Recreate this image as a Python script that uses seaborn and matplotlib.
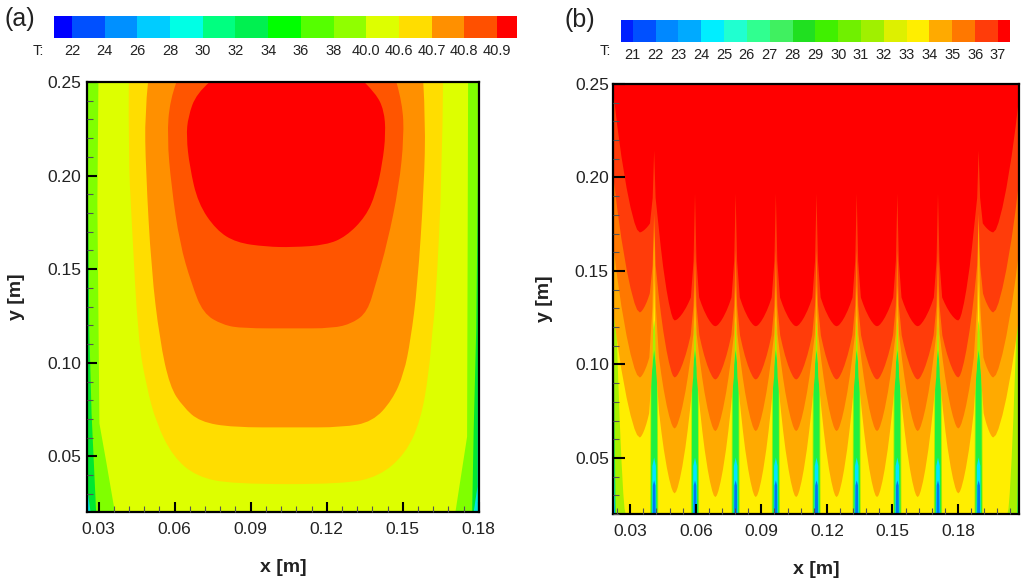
import numpy as np
import matplotlib
matplotlib.use("Agg")
import matplotlib.pyplot as plt
from matplotlib.colors import ListedColormap
from matplotlib.patches import PathPatch
from matplotlib.path import Path
from matplotlib.ticker import MultipleLocator, FormatStrFormatter
import seaborn as sns

# legend strips
labels_a = ["22", "24", "26", "28", "30", "32", "34", "36", "38", "40.0", "40.6", "40.7", "40.8", "40.9"]
colors_a = ["#0000FF", "#0050FF", "#0090FF", "#00CCFF", "#00FFE5", "#00FF80", "#00F050", "#00FF00",
            "#55FF00", "#90FF00", "#DDFF00", "#FFDD00", "#FF9000", "#FF5000", "#FF0000"]
labels_b = ["21", "22", "23", "24", "25", "26", "27", "28", "29", "30", "31", "32", "33", "34", "35", "36", "37"]
colors_b = ["#0020FF", "#0050FF", "#0088FF", "#00AAFF", "#00EEFF", "#20FFD0", "#30FF90", "#40F060", "#20E020",
            "#40F000", "#70F000", "#A0F000", "#DDF000", "#FFEE00", "#FFAA00", "#FF7800", "#FF3C0A", "#FF0000"]

# panel (a): outline of each temperature band
green_x = [0.0254, 0.0254, 0.0268, 0.1780, 0.1795, 0.1801]
green_y = [0.25, 0.0338, 0.0203, 0.0203, 0.0338, 0.25]
lime_x = [0.0254, 0.0263, 0.0272, 0.0290, 0.1774, 0.1780, 0.1790, 0.1801]
lime_y = [0.25, 0.1175, 0.0730, 0.0203, 0.0203, 0.0641, 0.1175, 0.25]
yellowgreen_x = [0.0299, 0.0295, 0.0303, 0.0331, 0.0364, 0.1708, 0.1754, 0.1758]
yellowgreen_y = [0.25, 0.1852, 0.0676, 0.0463, 0.0203, 0.0203, 0.0605, 0.25]
yellow_x = [0.0419, 0.0417, 0.0430, 0.0456, 0.0489, 0.0528, 0.0594, 0.0686, 0.0830, 0.1263, 0.1407,
            0.1512, 0.1571, 0.1603, 0.1617, 0.1630, 0.1656, 0.1659]
yellow_y = [0.25, 0.2119, 0.1763, 0.1122, 0.0872, 0.0676, 0.0498, 0.0392, 0.0352, 0.0352, 0.0392,
            0.0516, 0.0694, 0.0944, 0.1175, 0.1318, 0.2030, 0.25]
orange_x = [0.0495, 0.0482, 0.0486, 0.0508, 0.0541, 0.0581, 0.0633, 0.0699, 0.0830, 0.1066, 0.1263,
            0.1381, 0.1459, 0.1505, 0.1531, 0.1558, 0.1584, 0.1590, 0.1581]
orange_y = [0.25, 0.2333, 0.2030, 0.1496, 0.1122, 0.0872, 0.0765, 0.0685, 0.0655, 0.0655, 0.0655,
            0.0685, 0.0801, 0.0944, 0.1122, 0.1407, 0.1941, 0.2297, 0.25]
redorange_x = [0.0607, 0.0581, 0.0570, 0.0587, 0.0620, 0.0666, 0.0712, 0.0790, 0.0869, 0.1066, 0.1223,
               0.1302, 0.1361, 0.1394, 0.1439, 0.1485, 0.1505, 0.1499, 0.1475]
redorange_y = [0.25, 0.2404, 0.2208, 0.1941, 0.1638, 0.1424, 0.1264, 0.1202, 0.1184, 0.1184, 0.1184,
               0.1211, 0.1273, 0.1424, 0.1638, 0.1941, 0.2208, 0.2386, 0.25]
red_x = [0.0738, 0.0686, 0.0653, 0.0646, 0.0659, 0.0692, 0.0764, 0.0843, 0.0961, 0.1066, 0.1197,
         0.1276, 0.1354, 0.1394, 0.1420, 0.1433, 0.1426, 0.1394, 0.1348]
red_y = [0.25, 0.2439, 0.2315, 0.2208, 0.2048, 0.1852, 0.1709, 0.1642, 0.1620, 0.1617, 0.1629,
         0.1674, 0.1781, 0.1905, 0.2066, 0.2226, 0.2350, 0.2439, 0.25]

# panel (b): cold slits along x, and for each band the lobe bottoms, heights where a lobe
# meets a slit, slit tip heights and heights at the two side walls
slit_x = [0.0407, 0.0594, 0.0780, 0.0964, 0.1150, 0.1334, 0.1520, 0.1706, 0.1892]
floor_b = [0.02] * 10
flat_b = [0.02] * 9
lobe_frac = [0.0, 0.1, 0.2, 0.35, 0.5, 0.7, 0.85, 1.0]
lobe_rise = [0.0, 0.02, 0.07, 0.18, 0.32, 0.55, 0.76, 1.0]

cyan_top = [0.0382] * 9
green_top = [0.0505] * 9
lime_top = [0.1078] * 9
yellow_top = [0.1238] * 9
amber_bottom = [0.0612, 0.0313, 0.0293, 0.0293, 0.0293, 0.0293, 0.0293, 0.0293, 0.0313, 0.0612]
amber_side = [0.0741, 0.0757, 0.0757, 0.0757, 0.0757, 0.0757, 0.0757, 0.0757, 0.0741]
amber_top = [0.1452, 0.1265, 0.1265, 0.1265, 0.1265, 0.1265, 0.1265, 0.1265, 0.1452]
tone_bottom = [0.0933, 0.0660, 0.0646, 0.0646, 0.0646, 0.0646, 0.0646, 0.0646, 0.0660, 0.0933]
tone_side = [0.1040, 0.1024, 0.1024, 0.1024, 0.1024, 0.1024, 0.1024, 0.1024, 0.1040]
tone_top = [0.1810, 0.1425, 0.1425, 0.1425, 0.1425, 0.1425, 0.1425, 0.1425, 0.1810]
hot_bottom = [0.1281, 0.0933, 0.0922, 0.0922, 0.0922, 0.0922, 0.0922, 0.0922, 0.0933, 0.1281]
hot_side = [0.1382, 0.1158, 0.1158, 0.1158, 0.1158, 0.1158, 0.1158, 0.1158, 0.1382]
hot_top = [0.1810, 0.1612, 0.1612, 0.1612, 0.1612, 0.1612, 0.1612, 0.1612, 0.1810]
peak_bottom = [0.1709, 0.1238, 0.1207, 0.1207, 0.1207, 0.1207, 0.1207, 0.1207, 0.1238, 0.1709]
peak_side = [0.1757, 0.1361, 0.1361, 0.1361, 0.1361, 0.1361, 0.1361, 0.1361, 0.1757]
peak_top = [0.2147, 0.1917, 0.1917, 0.1917, 0.1917, 0.1917, 0.1917, 0.1917, 0.2147]
wall_heights = [0.05, 0.07, 0.1345, 0.181, 0.1275, 0.1628, 0.20, 0.245]

sns.set_theme(style="ticks")
plt.rcParams["font.family"] = ["Liberation Sans", "DejaVu Sans"]

W, H = 1024, 578
fig = plt.figure(figsize=(W / 100, H / 100), dpi=100, facecolor="white")


def px_axes(left, top, right, bottom):
    return fig.add_axes([left / W, 1 - bottom / H, (right - left) / W, (bottom - top) / H])


def legend_strip(box, colors, labels, xlim, t_x):
    ax = px_axes(*box)
    strip = np.arange(len(colors)).reshape(1, -1)
    sns.heatmap(strip, ax=ax, cmap=ListedColormap(colors), cbar=False, linewidths=0,
                xticklabels=False, yticklabels=False)
    ax.set_xlim(*xlim)
    ax.set_xticks(np.arange(1, len(labels) + 1))
    ax.set_xticklabels(labels, fontsize=10.5, color="#222222")
    ax.tick_params(axis="x", length=0, pad=4.5)
    fig.text(t_x / W, 1 - 51 / H, "T:", fontsize=10.5, color="#222222", ha="left", va="center")


def style_axes(ax, x_lim, y_lim, label_pad, y_tick_len):
    ax.set_xlim(*x_lim)
    ax.set_ylim(*y_lim)
    ax.set_axisbelow(False)
    ax.xaxis.set_major_locator(MultipleLocator(0.03))
    ax.xaxis.set_minor_locator(MultipleLocator(0.006))
    ax.yaxis.set_major_locator(MultipleLocator(0.05))
    ax.yaxis.set_minor_locator(MultipleLocator(0.01))
    ax.xaxis.set_major_formatter(FormatStrFormatter("%.2f"))
    ax.yaxis.set_major_formatter(FormatStrFormatter("%.2f"))
    ax.tick_params(which="major", direction="in", length=7.5, width=1.5, color="black",
                   labelsize=12.5, labelcolor="#222222")
    ax.tick_params(axis="x", which="major", pad=7)
    ax.tick_params(axis="y", which="major", pad=label_pad, length=y_tick_len)
    ax.tick_params(which="minor", direction="in", length=4, width=0.8, color="#555555")
    for side in ax.spines.values():
        side.set_linewidth(1.6)
        side.set_color("black")
    ax.set_xlabel("x [m]", fontsize=14, fontweight="bold", color="#222222", labelpad=16)
    ax.set_ylabel("y [m]", fontsize=14, fontweight="bold", color="#222222", labelpad=16)


def smooth_band(ax, bx, by, color):
    # outline points act as quadratic control points, so the corners come out round
    pts = list(zip(bx, by))
    verts, codes = [pts[0]], [Path.MOVETO]
    for i in range(1, len(pts) - 1):
        ctrl = pts[i]
        if i == len(pts) - 2:
            end = pts[-1]
        else:
            end = ((pts[i][0] + pts[i + 1][0]) / 2, (pts[i][1] + pts[i + 1][1]) / 2)
        verts += [ctrl, end]
        codes += [Path.CURVE3, Path.CURVE3]
    verts.append(pts[0])
    codes.append(Path.LINETO)
    ax.add_patch(PathPatch(Path(verts, codes), facecolor=color, edgecolor="none", lw=0))


def band_curve(bottom, side, top, half_w, wall, wall_span, neck, x_lo, x_hi):
    xs, ys = [], []
    last = len(bottom) - 1
    for i in range(len(bottom)):
        left_edge = x_lo if i == 0 else slit_x[i - 1] + half_w
        right_edge = x_hi if i == last else slit_x[i] - half_w
        if i == 0:
            centre = x_lo + wall_span
        elif i == last:
            centre = x_hi - wall_span
        else:
            centre = (left_edge + right_edge) / 2
        left_h = wall if i == 0 else side[i - 1]
        right_h = wall if i == last else side[i]
        for f, r in zip(lobe_frac[::-1], lobe_rise[::-1]):
            xs.append(centre - (centre - left_edge) * f)
            ys.append(bottom[i] + (left_h - bottom[i]) * r)
        for f, r in zip(lobe_frac[1:], lobe_rise[1:]):
            xs.append(centre + (right_edge - centre) * f)
            ys.append(bottom[i] + (right_h - bottom[i]) * r)
        if i < last:
            neck_y = side[i] + (top[i] - side[i]) * neck
            xs += [slit_x[i] - neck * half_w, slit_x[i], slit_x[i] + neck * half_w]
            ys += [neck_y, top[i], neck_y]
    return xs, ys


# legends
legend_strip((53.7, 16, 517, 38), colors_a, labels_a, (0.44, 14.61), 33)
legend_strip((621.3, 20, 1010.3, 41.7), colors_b, labels_b, (0.5, 17.54), 600)

# panel (a): the three outer bands reach the floor with sharp corners
ax_a = px_axes(87, 82, 479, 512)
ax_a.set_facecolor("#00E5E0")
ax_a.fill(green_x, green_y, color="#00E830", lw=0)
ax_a.fill(lime_x, lime_y, color="#80FF00", lw=0)
ax_a.fill(yellowgreen_x, yellowgreen_y, color="#DDFF00", lw=0)
smooth_band(ax_a, yellow_x, yellow_y, "#FFDD00")
smooth_band(ax_a, orange_x, orange_y, "#FF9000")
smooth_band(ax_a, redorange_x, redorange_y, "#FF5500")
smooth_band(ax_a, red_x, red_y, "#FF0000")
style_axes(ax_a, (0.0254, 0.1801), (0.0203, 0.25), 4, 7.5)

# panel (b)
ax_b = px_axes(613, 84, 1019, 514)
ax_b.set_facecolor("#0078F0")
x_lo_b, x_hi_b = 0.0221, 0.2079
bands_b = [
    (floor_b, flat_b, cyan_top, 0.0007, wall_heights[0], 0.0005, 0.85, "#00E5FF"),
    (floor_b, flat_b, green_top, 0.00095, wall_heights[1], 0.0008, 0.85, "#20F040"),
    (floor_b, flat_b, lime_top, 0.0015, wall_heights[2], 0.0012, 0.85, "#A8F000"),
    (floor_b, flat_b, yellow_top, 0.0019, wall_heights[3], 0.0056, 0.85, "#FFEE00"),
    (amber_bottom, amber_side, amber_top, 0.0023, wall_heights[4], 0.012, 0.35, "#FFAA00"),
    (tone_bottom, tone_side, tone_top, 0.0022, wall_heights[5], 0.012, 0.35, "#FF7800"),
    (hot_bottom, hot_side, hot_top, 0.0020, wall_heights[6], 0.012, 0.35, "#FF3C0A"),
    (peak_bottom, peak_side, peak_top, 0.0019, wall_heights[7], 0.012, 0.35, "#FF0000"),
]
for bottom, side, top, half_w, wall, span, neck, c in bands_b:
    cx, cy = band_curve(bottom, side, top, half_w, wall, span, neck, x_lo_b, x_hi_b)
    ax_b.fill_between(cx, cy, 0.25, color=c, lw=0)
style_axes(ax_b, (x_lo_b, x_hi_b), (0.02, 0.25), 3, 8.5)

fig.text(5 / W, 1 - 19 / H, "(a)", fontsize=18, color="#222222", ha="left", va="center")
fig.text(565 / W, 1 - 20 / H, "(b)", fontsize=18, color="#222222", ha="left", va="center")

fig.savefig("out.png", dpi=100)
